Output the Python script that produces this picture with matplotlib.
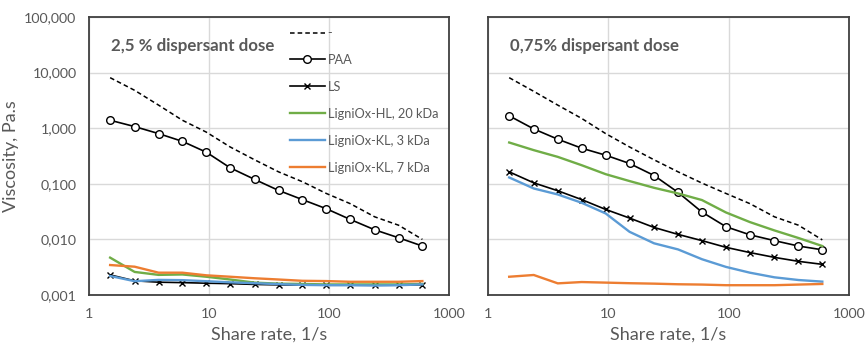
import matplotlib
matplotlib.use("Agg")
import matplotlib.pyplot as plt
from matplotlib.ticker import FixedLocator, FuncFormatter

plt.rcParams["font.family"] = ["Lato", "DejaVu Sans"]

# ── Data ────────────────────────────────────────────────────────────────────────
shear = [1.5, 2.4, 3.8, 6, 9.5, 15, 24, 38, 60, 95, 150, 240, 380, 600]

# 2,5 % dispersant dose
ref_25   = [8.1, 4.8, 2.6, 1.39, 0.85, 0.46, 0.27, 0.164, 0.109, 0.067, 0.044, 0.0255, 0.018, 0.010]
paa_25   = [1.39, 1.07, 0.80, 0.58, 0.37, 0.194, 0.12, 0.076, 0.052, 0.0356, 0.0229, 0.0149, 0.0107, 0.0076]
ls_25    = [0.0023, 0.0018, 0.0017, 0.00167, 0.00163, 0.0016, 0.00155, 0.00152, 0.00151, 0.0015, 0.0015, 0.0015, 0.0015, 0.00152]
hl20_25  = [0.0047, 0.0026, 0.0023, 0.00234, 0.00213, 0.0019, 0.00167, 0.0016, 0.00158, 0.00155, 0.00155, 0.00155, 0.00155, 0.00158]
kl3_25   = [0.0022, 0.00177, 0.00187, 0.00185, 0.00177, 0.00169, 0.00163, 0.00157, 0.00152, 0.0015, 0.0015, 0.00148, 0.0015, 0.00155]
kl7_25   = [0.00346, 0.00323, 0.00252, 0.00252, 0.00226, 0.00213, 0.0020, 0.0019, 0.0018, 0.00178, 0.00173, 0.00173, 0.00173, 0.00178]

# 0,75 % dispersant dose
ref_075  = [8.1, 4.6, 2.6, 1.5, 0.80, 0.46, 0.27, 0.164, 0.103, 0.067, 0.044, 0.0255, 0.018, 0.0098]
paa_075  = [1.67, 0.97, 0.634, 0.437, 0.327, 0.232, 0.141, 0.070, 0.031, 0.0169, 0.0121, 0.0095, 0.0076, 0.0065]
ls_075   = [0.164, 0.104, 0.075, 0.052, 0.0346, 0.0242, 0.0164, 0.0123, 0.0095, 0.0072, 0.0058, 0.00475, 0.00403, 0.00356]
hl20_075 = [0.553, 0.403, 0.305, 0.216, 0.149, 0.112, 0.0847, 0.067, 0.051, 0.0305, 0.0205, 0.0145, 0.0106, 0.0076]
kl3_075  = [0.13, 0.0824, 0.0643, 0.0456, 0.0293, 0.0137, 0.0085, 0.0066, 0.0044, 0.0032, 0.00252, 0.00208, 0.00186, 0.00174]
kl7_075  = [0.00213, 0.00229, 0.00162, 0.00171, 0.00167, 0.00163, 0.0016, 0.00156, 0.00154, 0.0015, 0.0015, 0.0015, 0.00154, 0.00158]

labels = ["-", "PAA", "LS", "LigniOx-HL, 20 kDa", "LigniOx-KL, 3 kDa", "LigniOx-KL, 7 kDa"]
titles = ["2,5 % dispersant dose", "0,75% dispersant dose"]

# ── Style ───────────────────────────────────────────────────────────────────────
TXT   = "#595959"
GRID  = "#d9d9d9"
EDGE  = "#404040"
GREEN = "#70ad47"
BLUE  = "#5b9bd5"
ORANGE = "#ed7d31"


def comma_fmt(v, _pos):
    return f"{v:.3f}".replace(".", ",")


def draw_panel(ax, ref, paa, ls, hl20, kl3, kl7, title, show_y):
    ax.plot(shear, ref, color="black", lw=1.1, ls=(0, (3, 2)), label=labels[0])
    ax.plot(shear, paa, color="black", lw=1.2, marker="o", ms=5.5,
            mfc="white", mec="black", mew=1.0, label=labels[1])
    ax.plot(shear, ls, color="black", lw=1.2, marker="x", ms=5,
            mew=1.0, label=labels[2])
    ax.plot(shear, hl20, color=GREEN, lw=1.7, label=labels[3])
    ax.plot(shear, kl3, color=BLUE, lw=1.7, label=labels[4])
    ax.plot(shear, kl7, color=ORANGE, lw=1.7, label=labels[5])

    ax.set_xscale("log")
    ax.set_yscale("log")
    ax.set_xlim(1, 1000)
    ax.set_ylim(0.001, 100)
    ax.xaxis.set_major_locator(FixedLocator([1, 10, 100, 1000]))
    ax.xaxis.set_major_formatter(FuncFormatter(lambda v, p: f"{v:g}"))
    ax.xaxis.set_minor_locator(FixedLocator([]))
    ax.yaxis.set_major_locator(FixedLocator([0.001, 0.01, 0.1, 1, 10, 100]))
    ax.yaxis.set_major_formatter(FuncFormatter(comma_fmt))
    ax.yaxis.set_minor_locator(FixedLocator([]))
    ax.grid(True, color=GRID, lw=1.0, zorder=0)
    ax.set_axisbelow(True)
    for s in ax.spines.values():
        s.set_color(EDGE)
        s.set_linewidth(1.3)
    ax.tick_params(length=0, labelsize=10.3, colors=TXT, pad=9)
    if not show_y:
        ax.tick_params(axis="y", labelleft=False)
    else:
        ax.set_ylabel("Viscosity, Pa.s", fontsize=13, color=TXT)
        ax.yaxis.set_label_coords(-0.194, 0.5)
    ax.set_xlabel("Share rate, 1/s", fontsize=13, color=TXT, labelpad=5)
    ax.text(0.06, 0.895, title, transform=ax.transAxes, fontsize=12.2,
            fontweight="bold", color=TXT, va="center", ha="left")


fig = plt.figure(figsize=(8.68, 3.52), dpi=100)
ax1 = fig.add_axes([89 / 868, 57 / 352, 360 / 868, 278 / 352])
ax2 = fig.add_axes([488 / 868, 57 / 352, 361 / 868, 278 / 352])

draw_panel(ax1, ref_25, paa_25, ls_25, hl20_25, kl3_25, kl7_25, titles[0], True)
draw_panel(ax2, ref_075, paa_075, ls_075, hl20_075, kl3_075, kl7_075, titles[1], False)

ax1.legend(loc="upper left", bbox_to_anchor=(290 / 868, 1 - 27 / 352),
           bbox_transform=fig.transFigure, frameon=False, fontsize=9.2,
           handlelength=2.7, handletextpad=0.25, labelspacing=1.17,
           borderpad=0, borderaxespad=0, labelcolor=TXT)

fig.savefig("out.png", dpi=100)
